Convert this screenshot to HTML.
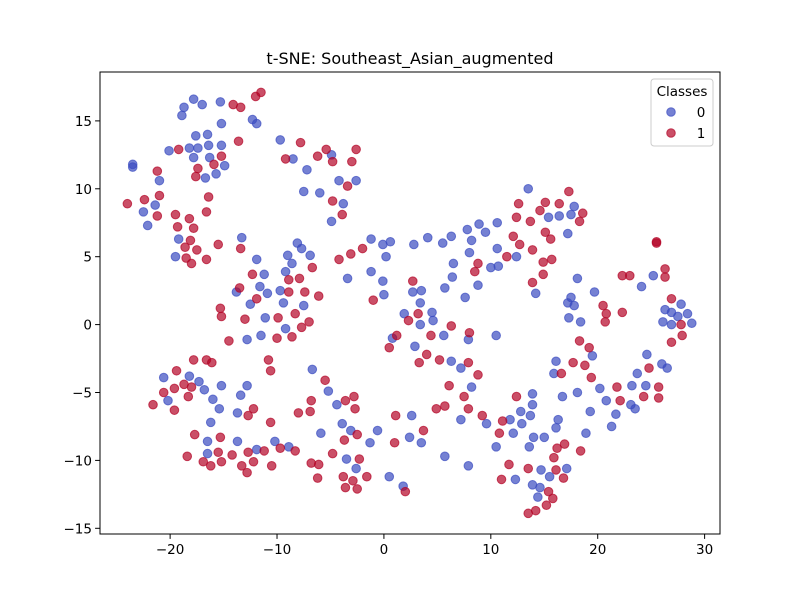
<!DOCTYPE html>
<html><head><meta charset="utf-8"><style>
body{margin:0;background:#fff;}
svg{display:block;font-family:"DejaVu Sans","Liberation Sans",sans-serif;}
</style></head><body>
<svg id="chart" width="800" height="600" viewBox="0 0 800 600" xmlns="http://www.w3.org/2000/svg">
<rect width="800" height="600" fill="#fff"/>
<text x="410" y="64" text-anchor="middle" font-size="16" fill="#000">t-SNE: Southeast_Asian_augmented</text>
<g id="points"></g>
<g id="axes"></g>
<g>
<rect x="651" y="79" width="62" height="67" rx="3" fill="#fff" fill-opacity="0.8" stroke="#ccc"/>
<text x="682" y="96" text-anchor="middle" font-size="13.5" fill="#000">Classes</text>
<circle cx="671" cy="112" r="4.3" fill="#3b4cc0" fill-opacity="0.7" stroke="#3b4cc0" stroke-opacity="0.7"/>
<text x="701" y="117" text-anchor="middle" font-size="13.5">0</text>
<circle cx="671" cy="133" r="4.3" fill="#b40426" fill-opacity="0.7" stroke="#b40426" stroke-opacity="0.7"/>
<text x="701" y="138" text-anchor="middle" font-size="13.5">1</text>
</g>
</svg>
<script>
const xTicks = [-20, -10, 0, 10, 20, 30];
const yTicks = [-15, -10, -5, 0, 5, 10, 15];
const class0Points = [
[-17.8,16.6],[-18.7,16.0],[-18.9,15.4],[-17.0,16.2],[-15.3,16.4],[-15.2,14.8],[-12.3,15.1],[-11.9,14.8],[-17.6,13.9],[-16.5,14.0],
[-20.1,12.8],[-18.2,13.0],[-17.4,13.0],[-16.4,13.2],[-15.2,13.2],[-17.8,12.3],[-16.3,12.3],[-14.9,11.7],[-15.7,11.1],[-16.7,10.8],
[-21.0,10.6],[-23.5,11.8],[-23.5,11.6],[-21.4,8.8],[-22.5,8.3],[-22.1,7.3],[-9.7,13.6],[-8.5,12.2],[-7.2,11.4],[-7.5,9.8],
[-13.3,6.4],[-19.2,6.3],[-19.5,5.0],[-11.9,4.8],[-11.2,3.7],[-11.6,2.8],[-13.8,2.4],[-10.9,2.3],[-9.7,2.5],[-9.0,5.1],
[-8.6,4.5],[-9.2,3.9],[-8.1,6.0],[-7.7,5.6],[-6.9,5.1],[-4.9,12.5],[-6.0,9.7],[-4.2,10.6],[-2.6,10.6],[-3.8,8.9],
[-4.9,7.6],[-1.2,6.3],[-0.1,5.9],[0.6,6.1],[0.2,5.0],[-3.4,3.4],[-1.2,3.9],[-0.1,3.2],[0.0,2.2],[2.8,5.9],
[4.1,6.4],[5.5,6.0],[6.3,6.5],[7.8,7.0],[8.9,7.4],[9.5,6.8],[10.6,7.5],[8.2,6.2],[10.6,5.6],[8.0,5.3],
[6.5,4.5],[10.0,4.2],[10.7,4.3],[6.4,3.5],[8.8,2.9],[5.7,2.7],[2.7,2.4],[3.5,2.5],[7.6,2.0],[13.5,10.0],
[17.8,8.7],[15.4,7.9],[16.4,8.0],[17.5,8.1],[17.2,6.7],[12.4,5.0],[18.1,3.4],[14.2,2.3],[17.5,2.0],[19.7,2.4],
[24.1,2.8],[25.2,3.6],[3.4,1.6],[1.9,0.8],[4.5,0.9],[4.6,0.3],[3.4,0.0],[0.8,-1.0],[2.9,-1.6],[5.6,-0.8],
[7.9,-1.1],[10.5,-0.8],[6.3,-2.7],[7.2,-3.2],[8.2,-4.6],[7.2,-7.0],[9.6,-7.3],[11.8,-7.0],[-6.7,-3.3],[-5.2,-4.9],
[-4.4,-5.9],[-5.9,-8.0],[-3.9,-7.3],[-3.1,-7.8],[-0.6,-7.8],[-1.3,-8.7],[2.6,-6.7],[2.4,-8.3],[3.5,-8.7],[5.7,-9.7],
[7.9,-10.4],[10.5,-9.0],[-3.5,-9.9],[-2.6,-10.6],[0.5,-11.2],[1.8,-11.9],[-12.5,1.5],[-9.4,1.6],[-7.5,1.4],[-11.1,0.5],
[-9.2,-0.3],[-12.8,-1.1],[-11.5,-0.8],[-20.6,-3.9],[-18.2,-3.8],[-17.3,-4.2],[-16.8,-4.8],[-15.2,-4.5],[-12.8,-4.5],[-20.2,-5.6],
[-16.0,-5.5],[-13.4,-5.2],[-15.4,-6.2],[-13.7,-6.5],[-16.2,-7.2],[-16.5,-8.6],[-13.7,-8.6],[-16.5,-9.5],[-11.9,-9.2],[-10.2,-8.6],
[-8.9,-9.0],[17.2,1.6],[17.8,1.4],[17.3,0.5],[18.4,0.2],[26.3,1.1],[26.9,0.9],[27.8,1.5],[27.5,0.6],[28.4,0.8],
[26.1,0.2],[26.9,0.0],[28.8,0.1],[16.1,-2.7],[15.9,-3.6],[19.5,-2.3],[18.1,-5.0],[16.7,-5.3],[20.2,-4.7],[20.8,-5.6],
[19.3,-6.4],[21.7,-6.6],[21.3,-7.5],[18.9,-8.0],[23.2,-4.5],[24.5,-4.5],[23.7,-3.6],[24.6,-2.2],[26.0,-2.9],[26.5,-3.2],
[23.1,-5.9],[23.5,-6.2],[13.9,-5.1],[13.9,-5.9],[12.8,-6.4],[13.7,-6.7],[12.9,-7.3],[12.1,-8.0],[16.3,-7.0],[16.1,-7.6],
[14.0,-8.3],[15.0,-8.3],[13.6,-9.0],[14.7,-10.7],[15.5,-11.2],[17.1,-10.6],[12.3,-11.4],[13.9,-11.8],[14.6,-12.0],[14.4,-12.7]
];
const class1Points = [
[-11.5,17.1],[-12.0,16.8],[-14.1,16.2],[-13.4,16.0],[-13.6,13.5],[-7.8,13.4],[-9.2,12.2],[-19.2,12.9],[-15.2,12.4],[-15.9,11.8],
[-17.4,11.5],[-17.6,10.9],[-21.2,11.3],[-22.4,9.2],[-21.0,9.5],[-24.0,8.9],[-21.2,8.0],[-16.4,9.4],[-16.6,8.3],[-19.5,8.1],
[-18.2,7.8],[-19.3,7.2],[-17.8,7.1],[-18.1,6.2],[-18.6,5.7],[-17.5,5.5],[-15.5,5.9],[-13.4,5.6],[-18.5,4.9],[-18.0,4.5],
[-16.6,4.8],[-12.3,3.7],[-13.5,2.7],[-8.9,3.3],[-7.9,3.4],[-8.9,2.4],[-7.4,2.4],[-5.4,12.9],[-6.2,12.4],[-4.8,12.0],
[-2.6,12.9],[-3.0,12.0],[-3.4,10.2],[-4.8,9.1],[-3.9,8.1],[-2.0,5.6],[-3.1,5.2],[-4.2,4.8],[-6.7,4.2],[-6.1,2.1],
[2.7,3.2],[8.8,4.5],[8.5,3.9],[11.5,5.0],[-1.0,1.8],[17.3,9.8],[12.6,8.9],[15.1,9.0],[16.4,8.9],[14.6,8.4],
[12.4,7.9],[13.7,7.6],[18.6,8.2],[18.3,7.6],[15.1,6.8],[15.6,6.3],[12.1,6.5],[12.7,5.9],[13.9,5.5],[14.9,4.6],
[15.7,4.8],[14.9,3.7],[13.9,3.1],[25.5,6.0],[25.5,6.1],[22.3,3.6],[23.0,3.6],[26.3,4.1],[26.3,3.5],[26.9,1.9],
[20.5,1.4],[20.8,0.8],[20.7,0.2],[22.3,0.9],[27.8,0.0],[27.9,-0.8],[26.9,-1.3],[18.3,-1.2],[19.2,-1.7],[17.7,-2.8],
[18.8,-3.0],[16.6,-3.6],[19.4,-3.9],[24.8,-3.2],[21.8,-4.6],[22.1,-5.6],[24.3,-5.3],[25.7,-4.6],[25.7,-5.4],[12.4,-5.3],
[11.1,-7.1],[10.8,-8.0],[16.9,-8.8],[16.2,-9.1],[15.9,-9.8],[18.4,-9.3],[11.7,-10.3],[13.5,-10.6],[16.1,-10.7],[16.8,-11.3],
[11.0,-11.4],[15.4,-12.3],[15.8,-12.8],[15.2,-13.3],[14.2,-13.7],[13.5,-13.9],[-7.0,0.2],[-7.7,-0.2],[3.2,0.8],[2.3,0.3],
[1.2,-0.8],[0.5,-1.7],[4.4,-0.8],[6.3,-0.1],[8.0,-0.6],[4.0,-2.2],[3.3,-2.8],[5.2,-2.6],[7.9,-2.8],[8.8,-3.7],
[6.1,-4.5],[7.5,-5.3],[7.9,-6.2],[5.7,-6.0],[4.9,-6.2],[9.2,-6.7],[-5.5,-4.1],[-6.8,-5.6],[-6.9,-6.4],[-3.6,-5.6],
[-2.8,-5.3],[-2.7,-6.2],[1.1,-6.7],[3.7,-7.8],[1.0,-8.7],[-2.5,-8.1],[-3.7,-8.5],[-4.8,-9.5],[-6.8,-10.2],[-6.1,-10.3],
[-2.3,-9.9],[-6.2,-11.3],[-3.8,-11.2],[-2.9,-11.5],[-1.6,-11.2],[-3.6,-12.0],[-2.5,-12.1],[2.0,-12.3],[-15.3,1.2],[-15.2,0.6],
[-13.0,0.4],[-11.9,1.9],[-14.5,-1.2],[-9.9,0.5],[-8.3,0.8],[-10.0,-1.0],[-8.6,-0.9],[-17.8,-2.6],[-16.6,-2.6],[-16.1,-2.8],
[-10.8,-2.6],[-10.6,-3.4],[-19.4,-3.4],[-18.7,-4.4],[-18.0,-4.6],[-19.6,-4.7],[-20.6,-5.0],[-18.3,-5.3],[-21.6,-5.9],[-19.6,-6.3],
[-12.2,-6.2],[-12.7,-6.7],[-10.6,-7.2],[-17.7,-8.1],[-15.3,-8.3],[-18.4,-9.7],[-15.5,-9.4],[-14.2,-9.6],[-12.7,-9.4],[-11.2,-9.3],
[-9.7,-9.1],[-8.3,-9.3],[-16.9,-10.1],[-16.2,-10.4],[-15.2,-10.1],[-13.3,-10.4],[-12.2,-10.1],[-10.5,-10.4],[-12.8,-10.9],[-8.0,-6.5]
];

const NS = 'http://www.w3.org/2000/svg';
const L = 100, R = 720, T = 72, B = 534;
const xMin = -26.56, xMax = 31.44, yMin = -15.42, yMax = 18.6;
function xs(v){ return L + (v - xMin) / (xMax - xMin) * (R - L); }
function ys(v){ return B - (v - yMin) / (yMax - yMin) * (B - T); }

const pts = document.getElementById('points');
function drawClass(list, color, cls){
  list.forEach(function(p, i){
    const c = document.createElementNS(NS, 'circle');
    c.setAttribute('cx', xs(p[0]));
    c.setAttribute('cy', ys(p[1]));
    c.setAttribute('r', 4.3);
    c.setAttribute('fill', color);
    c.setAttribute('fill-opacity', 0.7);
    c.setAttribute('stroke', color);
    c.setAttribute('stroke-opacity', 0.7);
    
    
    pts.appendChild(c);
  });
}
drawClass(class0Points, '#3b4cc0', 0);
drawClass(class1Points, '#b40426', 1);

const ax = document.getElementById('axes');
const frame = document.createElementNS(NS, 'rect');
frame.setAttribute('x', L); frame.setAttribute('y', T);
frame.setAttribute('width', R - L); frame.setAttribute('height', B - T);
frame.setAttribute('fill', 'none'); frame.setAttribute('stroke', '#000'); frame.setAttribute('stroke-width', 1);


ax.appendChild(frame);

xTicks.forEach(function(t){
  const x = xs(t);
  const ln = document.createElementNS(NS, 'line');
  ln.setAttribute('x1', x); ln.setAttribute('x2', x); ln.setAttribute('y1', B); ln.setAttribute('y2', B + 4.9);
  ln.setAttribute('stroke', '#000');
  
  
  ax.appendChild(ln);
  const tx = document.createElementNS(NS, 'text');
  tx.setAttribute('x', x); tx.setAttribute('y', B + 20);
  tx.setAttribute('text-anchor', 'middle'); tx.setAttribute('font-size', '13.5');
  tx.textContent = (t < 0 ? '\u2212' + Math.abs(t) : String(t));
  
  
  ax.appendChild(tx);
});
yTicks.forEach(function(t){
  const y = ys(t);
  const ln = document.createElementNS(NS, 'line');
  ln.setAttribute('x1', L - 4.9); ln.setAttribute('x2', L); ln.setAttribute('y1', y); ln.setAttribute('y2', y);
  ln.setAttribute('stroke', '#000');
  
  
  ax.appendChild(ln);
  const tx = document.createElementNS(NS, 'text');
  tx.setAttribute('x', L - 8); tx.setAttribute('y', y + 5);
  tx.setAttribute('text-anchor', 'end'); tx.setAttribute('font-size', '13.5');
  tx.textContent = (t < 0 ? '\u2212' + Math.abs(t) : String(t));
  
  
  ax.appendChild(tx);
});
</script>
</body></html>
